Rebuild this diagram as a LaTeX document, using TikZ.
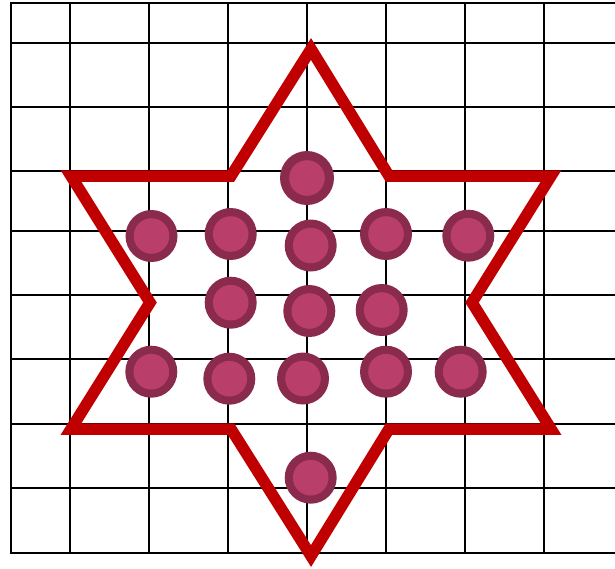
\documentclass[tikz,border=0pt]{standalone}
\definecolor{starred}{HTML}{C00000}
\definecolor{ringcol}{HTML}{8A2A4C}
\definecolor{coincol}{HTML}{BA3E6A}
\tikzset{
  gridline/.style={black,line width=1.7pt},
  starline/.style={starred,line width=11.5pt,line join=miter,miter limit=10},
  token/.style={circle,fill=ringcol,minimum size=52pt,inner sep=0pt,outer sep=0pt,
    path picture={\fill[coincol] (path picture bounding box.center) circle (17.8pt);}}
}
\begin{document}
\begin{tikzpicture}[x=1pt,y=-1pt]
\useasboundingbox (0,0) rectangle (615,568);
% grid
\begin{scope}
\clip (0,0) rectangle (615,568);
\foreach \xx in {11,70,149,228,307,386,465,544}
  \draw[gridline] (\xx,3) -- (\xx,553);
\foreach \yy in {3,43,107,171,231,295,359,424,488,553}
  \draw[gridline] (10.15,\yy) -- (616,\yy);
\end{scope}
% star
\draw[starline] (311,49) -- (389,176) -- (551,176) -- (472,302.5) -- (551,429)
  -- (389,429) -- (311,556) -- (231,429) -- (71,429) -- (150,302.5)
  -- (71,176) -- (231,176) -- cycle;
% tokens
\node[token,minimum size=54pt] (t1) at (307,178) {};
\node[token] (t2) at (151.5,236) {};
\node[token] (t3) at (230.7,234) {};
\node[token] (t4) at (310.7,245.5) {};
\node[token] (t5) at (386,234) {};
\node[token] (t6) at (468.3,235.7) {};
\node[token] (t7) at (230.7,302.7) {};
\node[token] (t8) at (309.3,311) {};
\node[token] (t9) at (381.7,310) {};
\node[token] (t10) at (151.3,371.7) {};
\node[token] (t11) at (229.3,378.7) {};
\node[token] (t12) at (303,378.5) {};
\node[token] (t13) at (386,371.7) {};
\node[token] (t14) at (460.7,371.7) {};
\node[token] (t15) at (310.7,477.7) {};
\end{tikzpicture}
\end{document}
